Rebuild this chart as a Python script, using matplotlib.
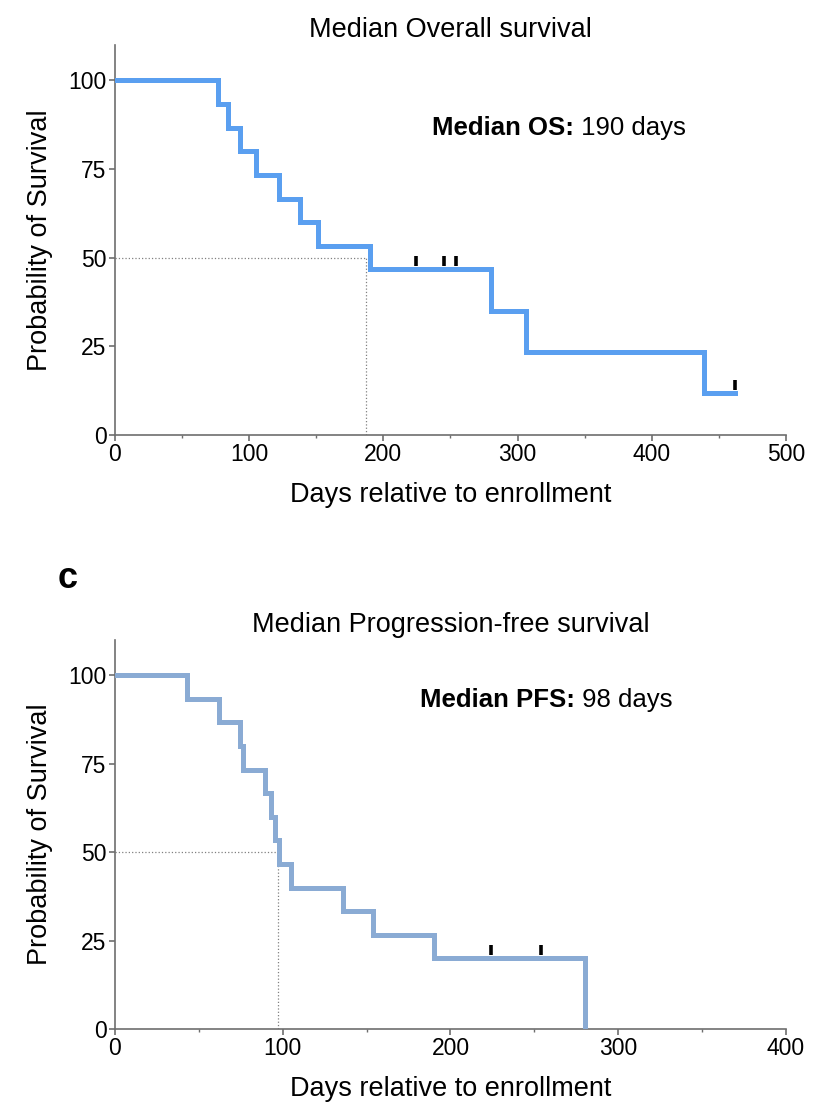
import matplotlib
matplotlib.use("Agg")
import matplotlib.pyplot as plt
from matplotlib.ticker import MultipleLocator
import numpy as np

plt.rcParams['font.family'] = ['Liberation Sans', 'DejaVu Sans']

# overall survival (days, % surviving after each step)
os_times = [0, 77, 84, 93, 105, 122, 138, 151, 190, 280, 306, 439, 462]
os_surv = [100, 93.3, 86.7, 80.0, 73.3, 66.7, 60.0, 53.3, 46.7, 35.0, 23.3, 11.7, 11.7]
os_cens_t = [224, 245, 254, 462]
os_cens_s = [46.7, 46.7, 46.7, 11.7]
os_median = 187

# progression-free survival
pfs_times = [0, 43, 62, 74.5, 76.5, 89.5, 93, 95.5, 98, 105, 136, 154, 190, 280, 280]
pfs_surv = [100, 93.3, 86.7, 80.0, 73.3, 66.7, 60.0, 53.3, 46.7, 40.0, 33.3, 26.7, 20.0, 0, 0]
pfs_cens_t = [224, 254]
pfs_cens_s = [20.0, 20.0]
pfs_median = 97

fig = plt.figure(figsize=(8.29, 11.17), dpi=100)
ax1 = fig.add_axes([0.1387, 0.6106, 0.8094, 0.3491])
ax2 = fig.add_axes([0.1387, 0.0788, 0.8094, 0.3483])


def km_panel(ax, t, s, ct, cs, med, color, xmax, title, label, value, txt_xy):
    ax.step(t, s, where='post', color=color, lw=3.6, solid_joinstyle='miter', zorder=3)
    ax.plot(ct, np.array(cs) + 2.4, ls='none', marker='|', color='black',
            markersize=7.5, markeredgewidth=2.6, zorder=4)
    # median guide lines
    ax.plot([0, med], [50, 50], ls=':', color='grey', lw=0.9, zorder=2)
    ax.plot([med, med], [0, 50], ls=':', color='grey', lw=0.9, zorder=2)

    ax.set_xlim(0, xmax)
    ax.set_ylim(0, 110)
    ax.set_yticks([0, 25, 50, 75, 100])
    ax.xaxis.set_major_locator(MultipleLocator(100))
    ax.xaxis.set_minor_locator(MultipleLocator(50))
    for side in ['top', 'right']:
        ax.spines[side].set_visible(False)
    for side in ['left', 'bottom']:
        ax.spines[side].set_color('#6e6e6e')
        ax.spines[side].set_linewidth(1.2)
    ax.tick_params(which='major', length=4, width=1.2, color='#6e6e6e',
                   labelsize=16.5, pad=2)
    ax.tick_params(which='minor', length=2, width=1.0, color='#6e6e6e')
    ax.set_xlabel('Days relative to enrollment', fontsize=19.5, labelpad=11)
    ax.set_ylabel('Probability of Survival', fontsize=19.5, labelpad=11)
    ax.set_title(title, fontsize=19.5, pad=6)

    tb = ax.text(txt_xy[0], txt_xy[1], label, fontsize=18.5, fontweight='bold',
                 va='center', ha='left')
    ax.annotate(value, xy=(1, 0.5), xycoords=tb, fontsize=18.5,
                va='center', ha='left')


km_panel(ax1, os_times, os_surv, os_cens_t, os_cens_s, os_median, '#5a9ff0', 500,
         'Median Overall survival', 'Median OS:', ' 190 days', (236, 86.5))
km_panel(ax2, pfs_times, pfs_surv, pfs_cens_t, pfs_cens_s, pfs_median, '#8aabd4', 400,
         'Median Progression-free survival', 'Median PFS:', ' 98 days', (182, 93))

fig.text(0.081, 0.482, 'c', fontsize=26, fontweight='bold', ha='center', va='center')

fig.savefig('out.png', dpi=100)
